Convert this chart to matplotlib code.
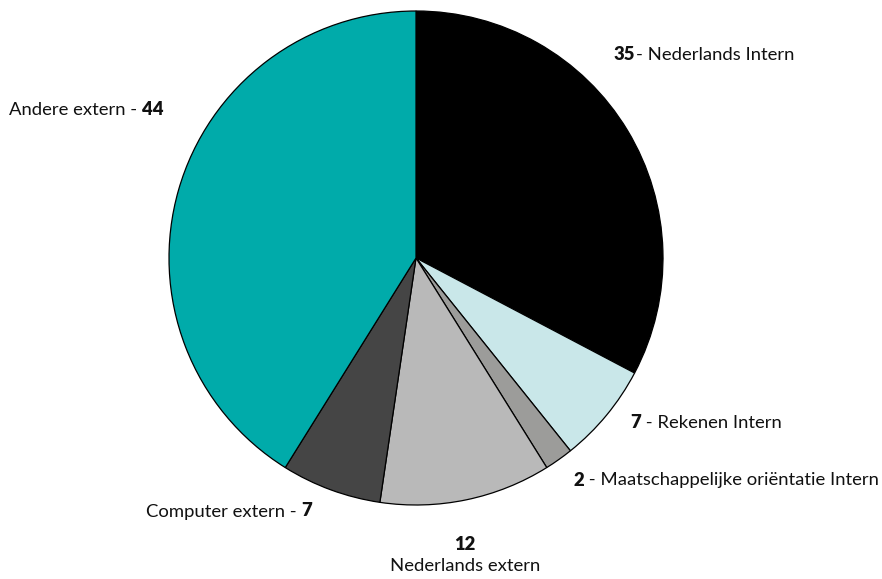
import matplotlib
matplotlib.use("Agg")
import matplotlib.pyplot as plt

categories = ["Nederlands Intern", "Rekenen Intern", "Maatschappelijke oriëntatie Intern",
              "Nederlands extern", "Computer extern", "Andere extern"]
values = [35, 7, 2, 12, 7, 44]
colors = ["#000000", "#c9e7e9", "#9c9c9a", "#b9b9b9", "#454545", "#00abaa"]

plt.rcParams['font.family'] = ['Lato', 'DejaVu Sans']
W, H = 882, 579
fig = plt.figure(figsize=(W / 100, H / 100), dpi=100)
cx, cy, r = 416, 258, 247
ax = fig.add_axes([(cx - r) / W, (H - cy - r) / H, 2 * r / W, 2 * r / H])
ax.pie(values, colors=colors, startangle=90, counterclock=False,
       wedgeprops=dict(edgecolor="black", linewidth=0.9))
ax.set_xlim(-1, 1)
ax.set_ylim(-1, 1)
ax.set_aspect('equal')
ax.axis('off')

fs = 13.3
color_txt = "#111111"

def px(x, y):
    return x / W, 1 - y / H

def num_first(x, y, num, label):
    t1 = fig.text(*px(x, y), str(num), fontsize=fs, fontweight='heavy', ha='left', va='center', color=color_txt)
    ax.annotate(label, xy=(1, 0), xycoords=t1, ha='left', va='bottom', fontsize=fs, color=color_txt,
                annotation_clip=False)

def num_last(xr, y, num, label):
    t1 = fig.text(*px(xr, y), str(num), fontsize=fs, fontweight='heavy', ha='right', va='center', color=color_txt)
    ax.annotate(label, xy=(0, 0), xycoords=t1, ha='right', va='bottom', fontsize=fs, color=color_txt,
                annotation_clip=False)

num_first(614, 55, values[0], "- " + categories[0])
num_first(630, 422, values[1], " - " + categories[1])
num_first(573, 480, values[2], " - " + categories[2])
num_last(163, 110, values[5], categories[5] + " - ")
num_last(312, 511, values[4], categories[4] + " - ")
fig.text(*px(465, 544), str(values[3]), fontsize=fs, fontweight='heavy', ha='center', va='center', color=color_txt)
fig.text(*px(465, 566), categories[3], fontsize=fs, ha='center', va='center', color=color_txt)

fig.savefig("out.png", dpi=100, facecolor="white")
